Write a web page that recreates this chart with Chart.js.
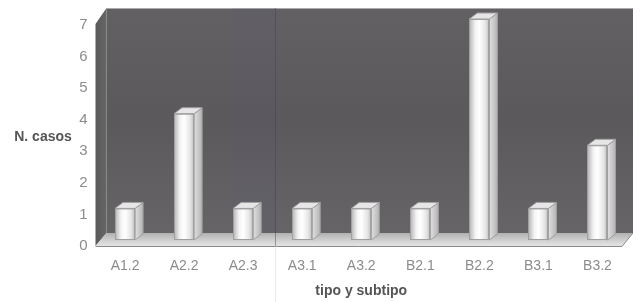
<!DOCTYPE html>
<html>
<head>
<meta charset="utf-8">
<script src="https://cdn.jsdelivr.net/npm/chart.js@4/dist/chart.umd.min.js"></script>
<style>
  html, body { margin: 0; padding: 0; background: #fff; }
</style>
</head>
<body>
<canvas id="grafico" width="642" height="302"></canvas>
<script>
// datos
const categorias = ['A1.2', 'A2.2', 'A2.3', 'A3.1', 'A3.2', 'B2.1', 'B2.2', 'B3.1', 'B3.2']
const casos = [1, 4, 1, 1, 1, 1, 7, 1, 3]
const ticksY = [0, 1, 2, 3, 4, 5, 6, 7]

const BAR_PCT = 0.34
const DX = 8, DY = 6      // profundidad de las barras
const FRONT = 6, BACK = 7 // piso delante / detrás de la base

function anchoBarra(chart) {
  const a = chart.chartArea
  return (a.right - a.left) / categorias.length * BAR_PCT
}

// fondo 3D: pared, lateral y piso
const paredes = {
  id: 'paredes',
  beforeDatasetsDraw(chart) {
    const ctx = chart.ctx
    const a = chart.chartArea
    const L = a.left, R = a.right, B = a.bottom, T = a.top
    ctx.save()
    // pared del fondo
    let g = ctx.createLinearGradient(0, T - 11, 0, B - BACK)
    g.addColorStop(0, '#636063')
    g.addColorStop(0.5, '#5c595c')
    g.addColorStop(1, '#666466')
    ctx.fillStyle = g
    ctx.fillRect(L + 11, T - 11, R + 6 - (L + 11), B - BACK - (T - 11))
    // borde superior claro
    ctx.fillStyle = 'rgba(220,220,220,0.6)'
    ctx.fillRect(L + 11, T - 11, R + 6 - (L + 11), 1)
    // franja azulada del escaneo
    ctx.fillStyle = 'rgba(90,90,140,0.10)'
    ctx.fillRect(232, T - 11, 43, B - BACK - (T - 11))
    // pared lateral izquierda
    g = ctx.createLinearGradient(L, 0, L + 11, 0)
    g.addColorStop(0, '#5a5a5a')
    g.addColorStop(1, '#676667')
    ctx.fillStyle = g
    ctx.beginPath()
    ctx.moveTo(L, T + 5)
    ctx.lineTo(L + 11, T - 11)
    ctx.lineTo(L + 11, B - BACK)
    ctx.lineTo(L, B + FRONT)
    ctx.closePath()
    ctx.fill()
    // piso
    g = ctx.createLinearGradient(0, B - BACK, 0, B + FRONT)
    g.addColorStop(0, '#b0b0b0')
    g.addColorStop(0.6, '#d2d2d2')
    g.addColorStop(1, '#e4e4e4')
    ctx.fillStyle = g
    ctx.beginPath()
    ctx.moveTo(L + 11, B - BACK)
    ctx.lineTo(R + 6, B - BACK)
    ctx.lineTo(R - 5, B + FRONT)
    ctx.lineTo(L, B + FRONT)
    ctx.closePath()
    ctx.fill()
    ctx.strokeStyle = '#8a8a8a'
    ctx.lineWidth = 1
    ctx.beginPath()
    ctx.moveTo(L, B + FRONT + 0.5)
    ctx.lineTo(R - 5, B + FRONT + 0.5)
    ctx.lineTo(R + 6, B - BACK)
    ctx.stroke()
    // pliegue vertical del escaneo
    ctx.strokeStyle = 'rgba(60,60,120,0.45)'
    ctx.beginPath()
    ctx.moveTo(275.5, T - 11)
    ctx.lineTo(275.5, B + FRONT)
    ctx.stroke()
    ctx.strokeStyle = 'rgba(210,210,210,0.45)'
    ctx.beginPath()
    ctx.moveTo(275.5, B + FRONT)
    ctx.lineTo(275.5, 302)
    ctx.stroke()
    ctx.restore()
  }
}

// caras superior y lateral de las barras
const barras3d = {
  id: 'barras3d',
  afterDatasetsDraw(chart) {
    const ctx = chart.ctx
    const meta = chart.getDatasetMeta(0)
    ctx.save()
    ctx.lineWidth = 1
    ctx.strokeStyle = '#a0a0a0'
    meta.data.forEach(bar => {
      const w = bar.width
      const x0 = bar.x - w / 2, x1 = bar.x + w / 2
      const y = bar.y, b = bar.base
      // lateral
      let g = ctx.createLinearGradient(x1, 0, x1 + DX, 0)
      g.addColorStop(0, '#e0e0e0')
      g.addColorStop(1, '#b4b4b4')
      ctx.fillStyle = g
      ctx.beginPath()
      ctx.moveTo(x1, y)
      ctx.lineTo(x1 + DX, y - DY)
      ctx.lineTo(x1 + DX, b - DY)
      ctx.lineTo(x1, b)
      ctx.closePath()
      ctx.fill()
      ctx.stroke()
      // tapa
      ctx.fillStyle = '#e6e6e6'
      ctx.beginPath()
      ctx.moveTo(x0, y)
      ctx.lineTo(x1, y)
      ctx.lineTo(x1 + DX, y - DY)
      ctx.lineTo(x0 + DX, y - DY)
      ctx.closePath()
      ctx.fill()
      ctx.stroke()
      ctx.strokeRect(Math.round(x0) + 0.5, y + 0.5, w - 1, b - y - 1)
    })
    ctx.restore()
  }
}

// título del eje Y en horizontal
const tituloY = {
  id: 'tituloY',
  afterDraw(chart) {
    const ctx = chart.ctx
    ctx.save()
    ctx.font = 'bold 14px "Liberation Sans", Arial, sans-serif'
    ctx.fillStyle = '#555'
    ctx.textAlign = 'center'
    ctx.textBaseline = 'middle'
    ctx.fillText('N. casos', 43, 137)
    ctx.restore()
  }
}

Chart.defaults.font.family = '"Liberation Sans", Arial, sans-serif'
Chart.defaults.color = '#8c8c8c'

const ctx = document.getElementById('grafico')

new Chart(ctx, {
  type: 'bar',
  data: {
    labels: categorias,
    datasets: [{
      data: casos,
      barPercentage: BAR_PCT,
      categoryPercentage: 1,
      borderWidth: 0,
      backgroundColor(c) {
        const chart = c.chart
        if (!chart.chartArea) return '#fff'
        const x = chart.scales.x.getPixelForValue(c.dataIndex)
        const w = anchoBarra(chart)
        const g = chart.ctx.createLinearGradient(x - w / 2, 0, x + w / 2, 0)
        g.addColorStop(0, '#b4b4b4')
        g.addColorStop(0.3, '#f4f4f4')
        g.addColorStop(0.5, '#ffffff')
        g.addColorStop(0.8, '#e6e6e6')
        g.addColorStop(1, '#bdbdbd')
        return g
      }
    }]
  },
  options: {
    responsive: false,
    animation: false,
    layout: { padding: { top: 19, right: 15, left: 0, bottom: 0 } },
    plugins: { legend: { display: false }, tooltip: { enabled: false } },
    scales: {
      x: {
        grid: { display: false, drawTicks: false },
        border: { display: false },
        ticks: { padding: 18, font: { size: 14 }, color: '#8c8c8c' },
        title: {
          display: true,
          text: 'tipo y subtipo',
          color: '#555',
          font: { size: 14, weight: 'bold' },
          padding: { top: 0, bottom: 2 }
        },
        afterFit(s) { s.height = 62 }
      },
      y: {
        min: 0,
        max: 7,
        grid: { display: false, drawTicks: false },
        border: { display: false },
        afterBuildTicks(s) { s.ticks = ticksY.map(v => ({ value: v })) },
        ticks: { padding: 8, labelOffset: 6, font: { size: 15 }, color: '#8c8c8c' },
        afterFit(s) { s.width = 95.5 }
      }
    }
  },
  plugins: [paredes, barras3d, tituloY]
})
</script>
</body>
</html>
